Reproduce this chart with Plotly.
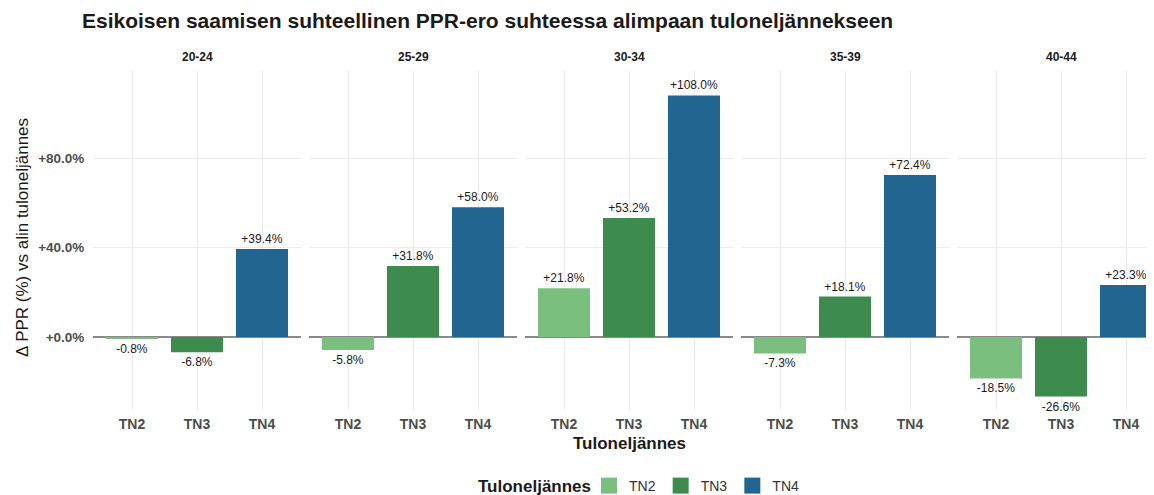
import plotly.graph_objects as go
from plotly.subplots import make_subplots

# data
ikaryhmat = ["20-24", "25-29", "30-34", "35-39", "40-44"]
kvartiilit = ["TN2", "TN3", "TN4"]
tn2 = [-0.8, -5.8, 21.8, -7.3, -18.5]
tn3 = [-6.8, 31.8, 53.2, 18.1, -26.6]
tn4 = [39.4, 58.0, 108.0, 72.4, 23.3]
y_ticks = [0, 40, 80]
y_ticktext = ["+0.0%", "+40.0%", "+80.0%"]

colors = {"TN2": "#7bbf7e", "TN3": "#3d8c4e", "TN4": "#226590"}
series = {"TN2": tn2, "TN3": tn3, "TN4": tn4}

# the page body has an 8px margin, so the figure starts at (8, 8)
OFF = 8
W, H = 1154 - OFF, 495 - OFF
FONT = "Liberation Sans, Arial, sans-serif"


def px(x):
    return (x - OFF) / W


def py(y):
    return 1 - (y - OFF) / H


def fmt(v):
    return f"{v:+.1f}%"


fig = make_subplots(rows=1, cols=len(ikaryhmat), shared_yaxes=True)

for i, age in enumerate(ikaryhmat):
    for k in kvartiilit:
        v = series[k][i]
        fig.add_trace(go.Bar(
            x=[k], y=[v], width=0.8,
            name=k, legendgroup=k, showlegend=False,
            marker=dict(color=colors[k], line=dict(width=0)),
            text=[fmt(v)], textposition="outside", constraintext="none",
            textfont=dict(size=12, color="#1a1a1a", family=FONT),
            cliponaxis=False,
        ), row=1, col=i + 1)

# legend entries with bigger square keys (like ggplot's)
for k in kvartiilit:
    fig.add_trace(go.Scatter(
        x=[None], y=[None], mode="markers", name=k, legendgroup=k,
        marker=dict(symbol="square", size=16, color=colors[k]),
        showlegend=True,
    ), row=1, col=1)

# panel geometry in page pixels
left0, panel_w, step = 93, 208, 216
top_px, bot_px = 71, 410
for i in range(len(ikaryhmat)):
    x0 = left0 + step * i
    x1 = min(x0 + panel_w, 1154)
    rng_hi = -0.6 + (x1 - x0) / 65.0
    xa = "xaxis" if i == 0 else f"xaxis{i + 1}"
    ya = "yaxis" if i == 0 else f"yaxis{i + 1}"
    fig.layout[xa].update(
        domain=[px(x0), min(px(x1), 1.0)], range=[-0.6, rng_hi], type="category",
        categoryorder="array", categoryarray=kvartiilit,
        showgrid=True, gridcolor="#ebebeb", gridwidth=1,
        ticks="outside", ticklen=1, tickcolor="rgba(0,0,0,0)",
        tickfont=dict(size=14, color="#4d4d4d", family=FONT, weight="bold"),
        showline=False, zeroline=False, fixedrange=True, automargin=False,
    )
    fig.layout[ya].update(
        domain=[py(bot_px), py(top_px)], range=[-32.6, 118.9],
        tickvals=y_ticks, ticktext=y_ticktext,
        showticklabels=(i == 0),
        showgrid=True, gridcolor="#ebebeb", gridwidth=1,
        zeroline=True, zerolinecolor="#8a8a8a", zerolinewidth=1.5,
        ticks="outside", ticklen=5, tickcolor="rgba(0,0,0,0)",
        tickfont=dict(size=13.5, color="#4d4d4d", family=FONT, weight="bold"),
        showline=False, fixedrange=True, automargin=False,
    )
    # facet strip label
    fig.add_annotation(
        text=f"<b>{ikaryhmat[i]}</b>", x=px(left0 + step * i + panel_w / 2),
        y=py(57), xref="paper", yref="paper", showarrow=False,
        font=dict(size=12, color="#1a1a1a", family=FONT),
        xanchor="center", yanchor="middle",
    )

# axis titles
fig.add_annotation(
    text="<b>Tuloneljännes</b>", x=px(629.5), y=py(443),
    xref="paper", yref="paper", showarrow=False,
    font=dict(size=17, color="#1a1a1a", family=FONT),
    xanchor="center", yanchor="middle",
)
fig.add_annotation(
    text="Δ PPR (%) vs alin tuloneljännes", x=px(22), y=py(238),
    xref="paper", yref="paper", showarrow=False, textangle=-90,
    font=dict(size=17, color="#1a1a1a", family=FONT),
    xanchor="center", yanchor="middle",
)
# legend title
fig.add_annotation(
    text="<b>Tuloneljännes</b>", x=px(593), y=py(486),
    xref="paper", yref="paper", showarrow=False,
    font=dict(size=17, color="#1a1a1a", family=FONT),
    xanchor="right", yanchor="middle",
)

fig.update_layout(
    width=W, height=H,
    margin=dict(l=0, r=0, t=0, b=0, autoexpand=False),
    paper_bgcolor="white", plot_bgcolor="white",
    barmode="overlay",
    font=dict(family=FONT, color="#1a1a1a"),
    title=dict(
        text="<b>Esikoisen saamisen suhteellinen PPR-ero suhteessa alimpaan tuloneljännekseen</b>",
        x=px(82), xanchor="left", y=py(21), yanchor="middle",
        font=dict(size=21, color="#1a1a1a", family=FONT),
    ),
    legend=dict(
        orientation="h", x=px(589), xanchor="left", y=py(486), yanchor="middle",
        font=dict(size=14, color="#333333", family=FONT),
        itemclick=False, itemdoubleclick=False,
    ),
    showlegend=True,
)

fig.write_html("out.html")
